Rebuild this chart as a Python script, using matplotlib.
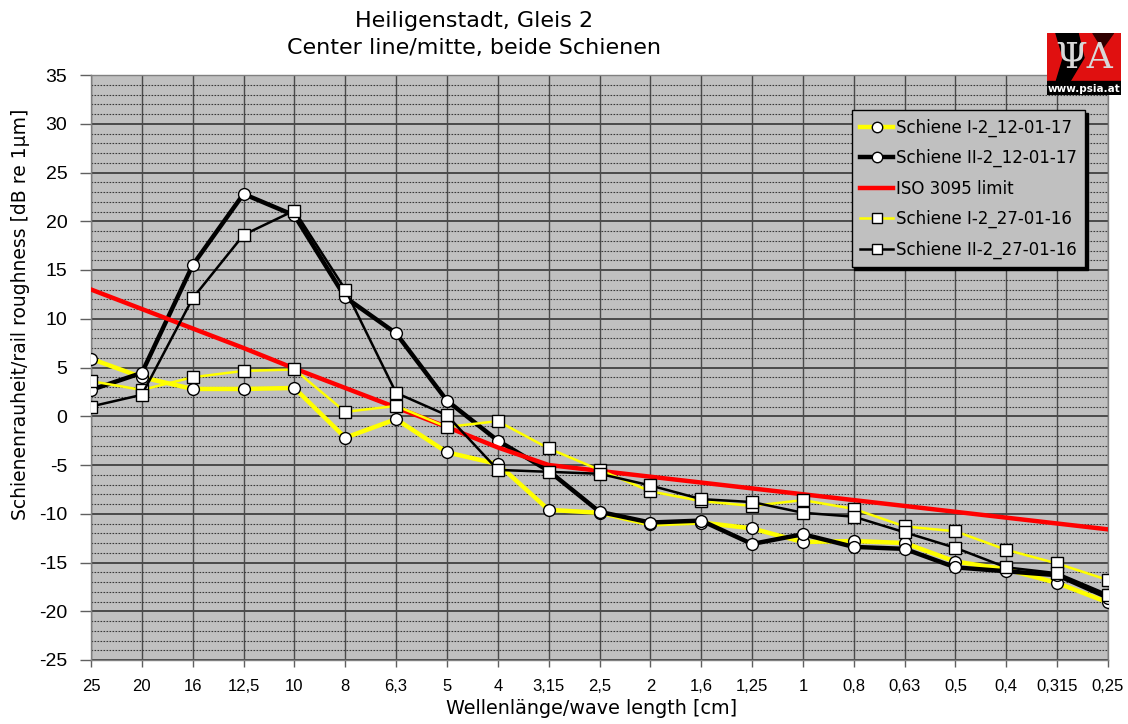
import matplotlib
matplotlib.use("Agg")
import matplotlib.pyplot as plt
from matplotlib.patches import Rectangle, Polygon
from matplotlib.ticker import MultipleLocator

plt.rcParams["axes.unicode_minus"] = False

# Wavelength bands (cm), one-third octave
wavelengths = ["25", "20", "16", "12,5", "10", "8", "6,3", "5", "4", "3,15", "2,5",
               "2", "1,6", "1,25", "1", "0,8", "0,63", "0,5", "0,4", "0,315", "0,25"]

# Roughness levels in dB re 1 µm
rail1_2017 = [5.9, 4.0, 2.8, 2.8, 2.9, -2.2, -0.3, -3.7, -4.9, -9.6, -9.9,
              -11.1, -10.9, -11.5, -12.9, -12.8, -13.0, -14.9, -15.7, -17.1, -19.1]
rail2_2017 = [2.7, 4.45, 15.5, 22.8, 20.6, 12.2, 8.5, 1.6, -2.5, -5.6, -9.8,
              -10.9, -10.7, -13.1, -12.1, -13.4, -13.6, -15.5, -15.9, -16.3, -18.6]
iso3095_limit = [13.0, 11.0, 9.0, 7.0, 4.9, 2.9, 0.9, -1.1, -3.2, -5.0, -5.6,
                 -6.2, -6.8, -7.4, -8.0, -8.6, -9.2, -9.8, -10.4, -11.0, -11.6]
rail1_2016 = [3.6, 2.7, 4.0, 4.65, 4.8, 0.45, 1.06, -1.1, -0.5, -3.3, -5.5,
              -7.7, -8.7, -9.2, -8.6, -9.5, -11.3, -11.8, -13.7, -15.1, -16.8]
rail2_2016 = [1.0, 2.2, 12.1, 18.6, 21.1, 13.0, 2.4, 0.1, -5.5, -5.7, -5.9,
              -7.1, -8.5, -8.8, -9.9, -10.3, -11.9, -13.5, -15.5, -16.1, -18.3]

labels = ["Schiene I-2_12-01-17", "Schiene II-2_12-01-17", "ISO 3095 limit",
          "Schiene I-2_27-01-16", "Schiene II-2_27-01-16"]

W, H = 1128, 724
fig = plt.figure(figsize=(W / 100, H / 100), dpi=100)
ax = fig.add_axes([91 / W, 1 - 660 / H, (1108 - 91) / W, (660 - 75) / H])
ax.set_facecolor("#c0c0c0")

x = list(range(len(wavelengths)))
yellow = "#ffff00"

ax.plot(x, rail1_2017, color=yellow, lw=3.2, marker="o", ms=8.5,
        mfc="white", mec="black", mew=1.0, label=labels[0], zorder=3)
ax.plot(x, rail2_2017, color="black", lw=3.2, marker="o", ms=8.5,
        mfc="white", mec="black", mew=1.0, label=labels[1], zorder=3)
ax.plot(x, iso3095_limit, color="#ff0000", lw=3.2, label=labels[2], zorder=3)
ax.plot(x, rail1_2016, color=yellow, lw=1.8, marker="s", ms=9,
        mfc="white", mec="black", mew=1.0, label=labels[3], zorder=3)
ax.plot(x, rail2_2016, color="black", lw=1.8, marker="s", ms=9,
        mfc="white", mec="black", mew=1.0, label=labels[4], zorder=3)

ax.set_xlim(0, len(wavelengths) - 1)
ax.set_ylim(-25, 35)
ax.set_xticks(x)
ax.set_xticklabels(wavelengths)
ax.yaxis.set_major_locator(MultipleLocator(5))
ax.yaxis.set_minor_locator(MultipleLocator(1))

ax.grid(which="major", axis="y", color="#4a4a4a", lw=1.4, zorder=1)
ax.grid(which="minor", axis="y", color="#3a3a3a", lw=0.8, ls=(0, (1.5, 1.2)), zorder=1)
ax.grid(which="major", axis="x", color="#4a4a4a", lw=1.0, zorder=1)
ax.set_axisbelow(True)

for side in ["left", "bottom", "right", "top"]:
    ax.spines[side].set_color("#808080")
    ax.spines[side].set_linewidth(1.0)

ax.tick_params(axis="y", which="major", length=8, width=1, color="#606060",
               pad=9, labelsize=14)
ax.tick_params(axis="y", which="minor", length=0)
ax.tick_params(axis="x", which="major", length=5, width=1, color="#606060",
               pad=9, labelsize=12)
for t in ax.get_yticklabels():
    t.set_family(["Liberation Sans", "DejaVu Sans"])
for t in ax.get_xticklabels():
    t.set_family(["Liberation Sans Narrow", "Liberation Sans", "DejaVu Sans"])

# Titles and axis labels
fig.text(474 / W, 1 - 21 / H, "Heiligenstadt, Gleis 2", ha="center", va="center",
         fontsize=16, family="DejaVu Sans")
fig.text(474 / W, 1 - 48 / H, "Center line/mitte, beide Schienen", ha="center",
         va="center", fontsize=16, family="DejaVu Sans")
fig.text(592 / W, 1 - 708 / H, "Wellenlänge/wave length [cm]", ha="center",
         va="center", fontsize=13.8, family="DejaVu Sans")
fig.text(21 / W, 1 - 314 / H, "Schienenrauheit/rail roughness [dB re 1µm]",
         ha="center", va="center", rotation=90, fontsize=13.5, family="DejaVu Sans")

leg = ax.legend(loc="upper right", bbox_to_anchor=(1085 / W, 1 - 110 / H),
                bbox_transform=fig.transFigure, borderaxespad=0, fontsize=12,
                frameon=True, fancybox=False, shadow={"color": "black", "alpha": 1.0},
                facecolor="#c0c0c0", edgecolor="black", framealpha=1.0,
                handlelength=2.0, handletextpad=0.15, labelspacing=0.74,
                borderpad=0.5)
leg.get_frame().set_linewidth(1.0)
for line in leg.get_lines():
    line.set_markersize(7.5)

# PSIA logo
lax = fig.add_axes([1047 / W, 1 - 95 / H, 74 / W, 62 / H])
lax.set_xlim(0, 1)
lax.set_ylim(0, 1)
lax.axis("off")
lax.add_patch(Rectangle((0, 0.2), 1, 0.8, color="#e01010"))
lax.add_patch(Polygon([[0.12, 1.0], [0.42, 1.0], [0.5, 0.6], [0.3, 0.2], [0.12, 0.2],
                       [0.22, 0.6]], color="black"))
lax.add_patch(Polygon([[0.62, 1.0], [0.9, 1.0], [0.75, 0.75]], color="#300000"))
lax.add_patch(Rectangle((0, 0), 1, 0.22, color="black"))
lax.text(0.5, 0.6, "ΨA", ha="center", va="center", fontsize=26,
         color="#d8d8d8", family="DejaVu Serif")
lax.text(0.5, 0.1, "www.psia.at", ha="center", va="center", fontsize=7.5,
         color="white", family="DejaVu Sans", weight="bold")

fig.savefig("out.png", dpi=100, facecolor="white")
